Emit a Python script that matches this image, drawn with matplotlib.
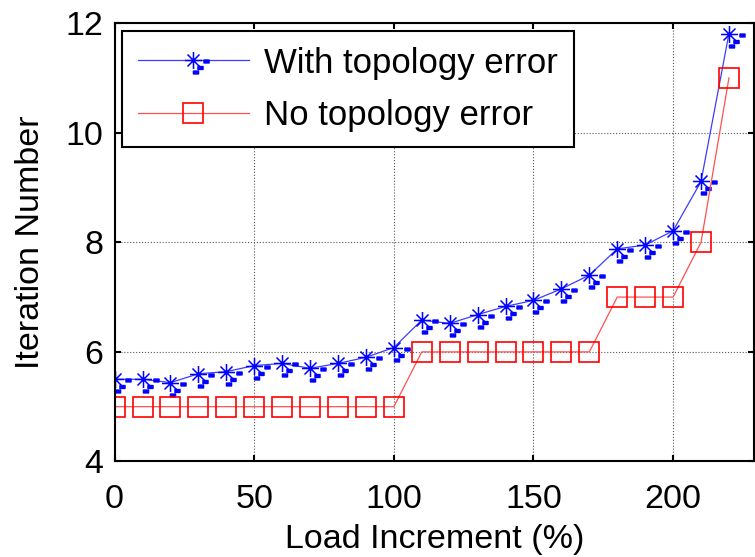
import numpy as np
import matplotlib
matplotlib.use('Agg')
import matplotlib.pyplot as plt
from matplotlib.path import Path

plt.rcParams['font.family'] = ['Liberation Sans', 'DejaVu Sans']

# data
load_pct = [0, 10, 20, 30, 40, 50, 60, 70, 80, 90, 100, 110,
            120, 130, 140, 150, 160, 170, 180, 190, 200, 210, 220]
iter_with_err = [5.50, 5.50, 5.44, 5.60, 5.64, 5.75, 5.79, 5.70, 5.79, 5.90, 6.08, 6.58,
                 6.52, 6.68, 6.83, 6.94, 7.15, 7.40, 7.88, 7.95, 8.21, 9.11, 11.81]
iter_no_err = [5, 5, 5, 5, 5, 5, 5, 5, 5, 5, 5, 6,
               6, 6, 6, 6, 6, 6, 7, 7, 7, 8, 11]
x_ticks = [0, 50, 100, 150, 200]
y_ticks = [4, 6, 8, 10, 12]


def star_marker():
    """MATLAB-like asterisk with the little dash artifacts under it (units: px)."""
    r, d = 8.5, 6.0
    verts, codes = [], []
    for (x0, y0, x1, y1) in [(-r, 0, r, 0), (0, -r, 0, r), (-d, -d, d, d), (-d, d, d, -d)]:
        verts += [(x0, y0), (x1, y1)]
        codes += [Path.MOVETO, Path.LINETO]
    for (cx, cy) in [(13, -1), (7, -7.5), (2.5, -12)]:
        w, h = 2.5, 1.4
        verts += [(cx - w, cy - h), (cx + w, cy - h), (cx + w, cy + h), (cx - w, cy + h), (0, 0)]
        codes += [Path.MOVETO, Path.LINETO, Path.LINETO, Path.LINETO, Path.CLOSEPOLY]
    p = Path(verts, codes)
    size = 2 * np.max(np.abs(p.vertices)) * 72 / 100.0
    return p, size


mk, mk_size = star_marker()

fig = plt.figure(figsize=(7.55, 5.57), dpi=100)
ax = fig.add_axes([0.1518, 0.1715, 0.847, 0.787])

ax.plot(load_pct, iter_with_err, color='#3c3cff', lw=0.9,
        marker=mk, markersize=mk_size, markeredgecolor='#0000ff',
        markerfacecolor='#0000ff', markeredgewidth=1.1, label='With topology error')
ax.plot(load_pct, iter_no_err, color='#ff5050', lw=0.9,
        marker='s', markersize=15, markeredgecolor='#ff0000',
        markerfacecolor='none', markeredgewidth=1.2, label='No topology error')

ax.set_xlim(0, 229)
ax.set_ylim(4, 12)
ax.set_xticks(x_ticks)
ax.set_yticks(y_ticks)
ax.grid(True, linestyle=':', color='0.35', linewidth=0.8)
ax.tick_params(direction='in', length=4, width=1.5, top=True, right=True,
               labelsize=24.5)
ax.tick_params(axis='x', pad=16)
ax.tick_params(axis='y', pad=8)
for s in ax.spines.values():
    s.set_linewidth(1.5)

ax.set_xlabel('Load Increment (%)', fontsize=24.5, labelpad=7)
ax.set_ylabel('Iteration Number', fontsize=24.5, labelpad=14)

leg = ax.legend(loc='upper left', bbox_to_anchor=(0.0116, 0.982), borderaxespad=0,
                fontsize=25, numpoints=1, handlelength=3.2, handletextpad=0.45,
                labelspacing=0.55, borderpad=0.45, fancybox=False, framealpha=1)
leg.get_frame().set_edgecolor('black')
leg.get_frame().set_linewidth(1.5)

fig.savefig('out.png', dpi=100)
